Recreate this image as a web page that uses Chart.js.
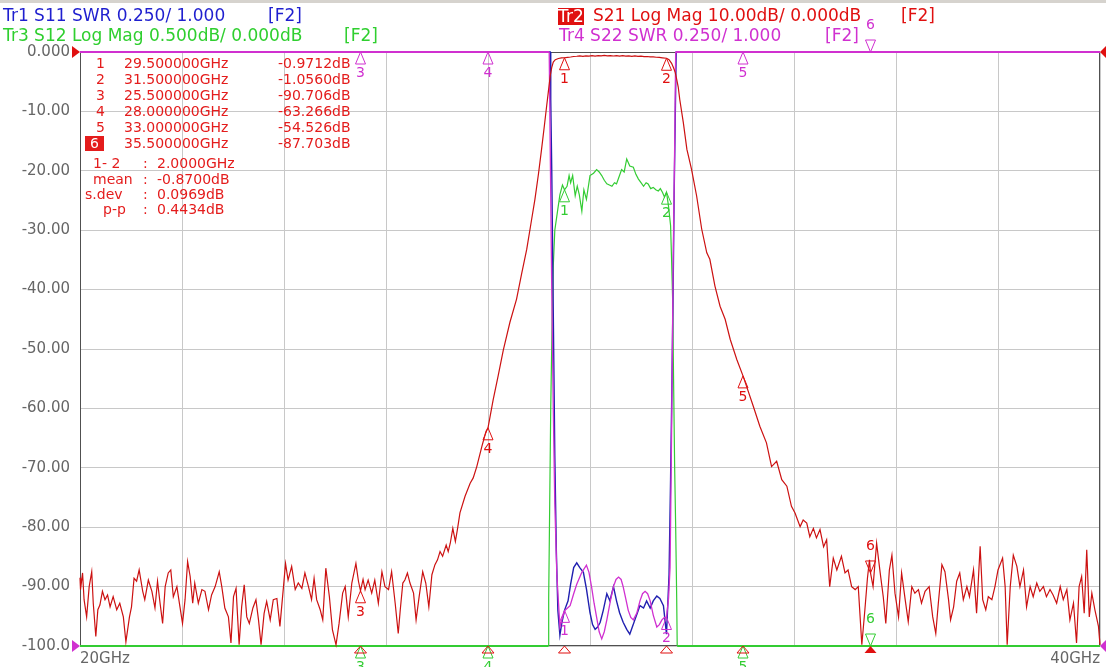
<!DOCTYPE html>
<html lang="en">
<head>
<meta charset="UTF-8">
<title>S-parameter sweep 20-40 GHz</title>
<script src="https://cdn.jsdelivr.net/npm/chart.js"></script>
<style>
    body { margin: 0; background: #fff; font-family: "DejaVu Sans", sans-serif; }
    #wrap { position: relative; width: 1106px; height: 667px; overflow: hidden; }
    #topbar { position: absolute; left: 0; top: 0; width: 1106px; height: 3px; background: #d6d3ce; }
    .t { position: absolute; white-space: pre; line-height: 20px; font-size: 17px; }
    .m { position: absolute; white-space: pre; line-height: 17px; font-size: 14px; color: #e41c1c; }
    .blue { color: #1f1fcf; }
    .green { color: #2fcf2f; }
    .red { color: #e01010; }
    .mag { color: #d030d0; }
</style>
</head>
<body>
<div id="wrap">
    <canvas id="vna" width="1106" height="667"></canvas>
    <div id="topbar"></div>

    <!-- trace header -->
    <div class="t blue" style="left:3px;top:5px">Tr1 S11 SWR 0.250/ 1.000</div>
    <div class="t blue" style="left:268px;top:5px">[F2]</div>
    <div class="t green" style="left:3px;top:25px">Tr3 S12 Log Mag 0.500dB/ 0.000dB</div>
    <div class="t green" style="left:344px;top:25px">[F2]</div>
    <div class="t" style="left:558px;top:8px;line-height:17px;height:17px;background:#e01010;color:#fff">Tr2</div>
    <div class="t red" style="left:593px;top:5px">S21 Log Mag 10.00dB/ 0.000dB</div>
    <div class="t red" style="left:901px;top:5px">[F2]</div>
    <div class="t mag" style="left:559px;top:25px">Tr4 S22 SWR 0.250/ 1.000</div>
    <div class="t mag" style="left:825px;top:25px">[F2]</div>

    <!-- marker table -->
    <div class="m" style="left:96px;top:55px">1</div>
    <div class="m" style="left:124px;top:55px">29.500000GHz</div>
    <div class="m" style="left:278px;top:55px">-0.9712dB</div>
    <div class="m" style="left:96px;top:71px">2</div>
    <div class="m" style="left:124px;top:71px">31.500000GHz</div>
    <div class="m" style="left:278px;top:71px">-1.0560dB</div>
    <div class="m" style="left:96px;top:87px">3</div>
    <div class="m" style="left:124px;top:87px">25.500000GHz</div>
    <div class="m" style="left:278px;top:87px">-90.706dB</div>
    <div class="m" style="left:96px;top:103px">4</div>
    <div class="m" style="left:124px;top:103px">28.000000GHz</div>
    <div class="m" style="left:278px;top:103px">-63.266dB</div>
    <div class="m" style="left:96px;top:119px">5</div>
    <div class="m" style="left:124px;top:119px">33.000000GHz</div>
    <div class="m" style="left:278px;top:119px">-54.526dB</div>
    <div class="m" style="left:85px;top:136px;width:19px;height:15px;line-height:15px;background:#e41c1c;color:#fff;text-align:center">6</div>
    <div class="m" style="left:124px;top:135px">35.500000GHz</div>
    <div class="m" style="left:278px;top:135px">-87.703dB</div>

    <div class="m" style="left:93px;top:155px">1- 2</div>
    <div class="m" style="left:143px;top:155px">:</div>
    <div class="m" style="left:157px;top:155px">2.0000GHz</div>
    <div class="m" style="left:93px;top:171px">mean</div>
    <div class="m" style="left:143px;top:171px">:</div>
    <div class="m" style="left:157px;top:171px">-0.8700dB</div>
    <div class="m" style="left:85px;top:186px">s.dev</div>
    <div class="m" style="left:143px;top:186px">:</div>
    <div class="m" style="left:157px;top:186px">0.0969dB</div>
    <div class="m" style="left:103px;top:201px">p-p</div>
    <div class="m" style="left:143px;top:201px">:</div>
    <div class="m" style="left:157px;top:201px">0.4434dB</div>
</div>

<script>
// Tr2 S21, log mag (dB) vs frequency (GHz)
const s21Freq = [
    20.00, 20.01, 20.05, 20.08, 20.13, 20.18, 20.23, 20.26, 20.31, 20.35,
    20.39, 20.44, 20.49, 20.54, 20.59, 20.65, 20.72, 20.78, 20.85, 20.90,
    20.97, 21.01, 21.06, 21.11, 21.16, 21.23, 21.27, 21.34, 21.41, 21.47,
    21.52, 21.57, 21.62, 21.67, 21.73, 21.78, 21.83, 21.90, 21.96, 22.01,
    22.06, 22.11, 22.16, 22.21, 22.25, 22.32, 22.39, 22.45, 22.52, 22.58,
    22.65, 22.73, 22.78, 22.84, 22.91, 22.96, 23.01, 23.06, 23.12, 23.17,
    23.22, 23.27, 23.32, 23.39, 23.45, 23.50, 23.55, 23.61, 23.66, 23.73,
    23.79, 23.86, 23.92, 23.99, 24.03, 24.08, 24.15, 24.22, 24.28, 24.35,
    24.41, 24.48, 24.54, 24.59, 24.64, 24.71, 24.76, 24.82, 24.89, 24.95,
    25.02, 25.08, 25.15, 25.20, 25.26, 25.33, 25.41, 25.46, 25.50, 25.55,
    25.59, 25.65, 25.72, 25.78, 25.85, 25.92, 25.98, 26.05, 26.11, 26.18,
    26.24, 26.28, 26.33, 26.37, 26.42, 26.47, 26.54, 26.59, 26.65, 26.72,
    26.78, 26.84, 26.90, 26.96, 27.01, 27.06, 27.11, 27.18, 27.22, 27.26,
    27.31, 27.36, 27.40, 27.45, 27.55, 27.65, 27.71, 27.78, 27.88, 27.96,
    28.00, 28.03, 28.10, 28.20, 28.30, 28.43, 28.56, 28.66, 28.76, 28.84,
    28.92, 28.99, 29.05, 29.10, 29.15, 29.19, 29.22, 29.25, 29.28, 29.32,
    29.38, 29.44, 29.50, 29.56, 29.62, 29.68, 29.74, 29.80, 29.86, 29.92,
    29.98, 30.04, 30.10, 30.16, 30.22, 30.28, 30.34, 30.40, 30.46, 30.52,
    30.58, 30.64, 30.70, 30.76, 30.82, 30.88, 30.94, 31.00, 31.06, 31.12,
    31.18, 31.24, 31.30, 31.36, 31.42, 31.50, 31.55, 31.60, 31.64, 31.67,
    31.70, 31.73, 31.76, 31.83, 31.90, 31.99, 32.09, 32.19, 32.29, 32.35,
    32.45, 32.55, 32.65, 32.75, 32.88, 33.00, 33.07, 33.20, 33.33, 33.46,
    33.56, 33.66, 33.76, 33.86, 33.95, 34.02, 34.08, 34.12, 34.18, 34.25,
    34.31, 34.38, 34.44, 34.51, 34.58, 34.64, 34.70, 34.77, 34.84, 34.93,
    35.00, 35.06, 35.13, 35.20, 35.26, 35.33, 35.39, 35.44, 35.48, 35.50,
    35.55, 35.62, 35.69, 35.75, 35.80, 35.87, 35.92, 35.98, 36.05, 36.11,
    36.18, 36.24, 36.31, 36.37, 36.44, 36.50, 36.57, 36.65, 36.72, 36.78,
    36.83, 36.90, 36.96, 37.03, 37.07, 37.13, 37.19, 37.25, 37.32, 37.39,
    37.44, 37.52, 37.58, 37.65, 37.70, 37.76, 37.81, 37.88, 37.94, 38.00,
    38.09, 38.14, 38.18, 38.24, 38.30, 38.37, 38.43, 38.50, 38.56, 38.63,
    38.69, 38.76, 38.82, 38.89, 38.95, 39.02, 39.08, 39.15, 39.22, 39.28,
    39.35, 39.41, 39.48, 39.54, 39.59, 39.64, 39.69, 39.74, 39.79, 39.84,
    39.90, 39.97, 40.00
];
const s21Db = [
    -88.5, -90.5, -87.7, -92.2, -95.1, -90.0, -87.5, -92.8, -98.4, -93.9,
    -93.1, -90.8, -92.2, -91.4, -93.4, -91.7, -93.9, -92.8, -95.1, -99.3,
    -95.1, -93.4, -88.6, -89.1, -87.2, -90.8, -92.2, -88.9, -90.8, -93.6,
    -89.1, -92.8, -96.2, -90.0, -87.7, -87.2, -91.7, -90.0, -93.4, -96.2,
    -92.2, -85.8, -88.3, -92.8, -89.4, -92.8, -90.5, -90.8, -93.9, -91.4,
    -90.0, -87.5, -90.0, -93.6, -95.1, -99.5, -91.7, -90.3, -99.8, -93.4,
    -89.7, -95.1, -96.2, -93.6, -92.2, -95.6, -99.8, -94.5, -92.5, -95.6,
    -92.2, -92.0, -96.7, -90.0, -86.1, -88.9, -86.6, -90.5, -89.4, -90.3,
    -87.7, -90.0, -92.2, -88.6, -92.2, -93.9, -95.6, -86.9, -91.7, -97.3,
    -99.8, -96.2, -91.1, -90.0, -95.1, -89.4, -86.1, -89.1, -90.7, -88.8,
    -90.5, -88.9, -91.1, -88.9, -92.8, -87.5, -90.0, -90.5, -87.5, -92.8,
    -97.9, -93.9, -89.4, -88.9, -87.7, -89.4, -91.1, -95.6, -91.7, -87.5,
    -89.4, -93.4, -88.0, -86.3, -85.5, -84.1, -84.9, -83.0, -84.1, -82.7,
    -80.2, -82.4, -80.4, -77.6, -74.8, -72.6, -71.7, -69.8, -66.4, -63.9,
    -63.27, -61.9, -58.6, -54.5, -50.2, -45.5, -41.6, -37.3, -33.2, -29.0,
    -24.8, -20.5, -16.4, -12.8, -9.1, -6.2, -4.0, -2.6, -1.7, -1.3,
    -1.1, -1.0, -0.97, -0.9, -0.84, -0.76, -0.72, -0.66, -0.72, -0.64,
    -0.7, -0.62, -0.68, -0.6, -0.66, -0.58, -0.65, -0.6, -0.67, -0.6,
    -0.68, -0.62, -0.7, -0.64, -0.72, -0.66, -0.74, -0.7, -0.78, -0.76,
    -0.83, -0.82, -0.88, -0.92, -0.98, -1.056, -1.3, -1.9, -2.7, -3.4,
    -4.6, -5.9, -8.0, -11.9, -16.4, -19.7, -24.2, -29.8, -33.8, -34.9,
    -39.4, -42.8, -45.0, -48.4, -51.8, -54.53, -56.3, -59.6, -63.0, -65.8,
    -69.8, -68.9, -72.0, -73.1, -76.5, -77.6, -79.0, -79.9, -78.8, -79.3,
    -81.6, -80.2, -81.8, -80.4, -83.3, -82.1, -90.0, -85.2, -87.2, -84.9,
    -87.7, -87.2, -90.0, -90.5, -90.0, -99.8, -93.9, -88.6, -85.5, -87.7,
    -90.0, -82.7, -87.7, -91.7, -96.2, -87.2, -84.7, -91.1, -95.1, -87.7,
    -92.2, -95.9, -90.0, -91.1, -90.5, -92.8, -90.8, -90.0, -95.1, -97.9,
    -92.8, -86.3, -87.5, -92.2, -95.6, -93.4, -89.1, -87.7, -92.2, -90.0,
    -91.7, -87.2, -94.5, -83.2, -92.2, -93.9, -91.7, -92.2, -90.0, -87.2,
    -85.2, -90.0, -99.8, -90.0, -84.7, -86.6, -90.0, -87.2, -93.4, -90.0,
    -91.7, -89.4, -90.8, -90.0, -91.7, -90.5, -91.4, -92.8, -90.0, -92.2,
    -90.5, -95.6, -92.8, -99.5, -90.0, -88.3, -94.5, -83.8, -95.1, -91.1,
    -93.9, -96.7, -99.8
];

// Tr3 S12, log mag 0.5 dB/div (clamped at -5 dB on screen)
const s12Freq = [
    20.00, 29.18, 29.19, 29.21, 29.23, 29.26, 29.28, 29.31, 29.36, 29.41,
    29.46, 29.50, 29.55, 29.59, 29.62, 29.66, 29.71, 29.75, 29.79, 29.84,
    29.88, 29.93, 30.00, 30.07, 30.13, 30.18, 30.23, 30.28, 30.33, 30.38,
    30.43, 30.48, 30.52, 30.57, 30.62, 30.67, 30.72, 30.78, 30.85, 30.90,
    30.95, 31.00, 31.05, 31.10, 31.14, 31.19, 31.24, 31.29, 31.34, 31.38,
    31.42, 31.46, 31.50, 31.54, 31.58, 31.60, 31.62, 31.64, 31.66, 31.68,
    31.70, 31.71, 40.00
];
const s12Db = [
    -5.0, -5.0, -4.6, -3.8, -3.0, -2.2, -1.8, -1.5, -1.35, -1.2,
    -1.12, -1.16, -1.13, -1.04, -1.1, -1.04, -1.21, -1.13, -1.2, -1.34,
    -1.16, -1.24, -1.04, -1.02, -0.99, -1.01, -1.04, -1.08, -1.11, -1.12,
    -1.13, -1.1, -1.11, -1.05, -0.99, -1.01, -0.9, -0.96, -0.97, -1.03,
    -1.07, -1.1, -1.13, -1.1, -1.11, -1.15, -1.14, -1.16, -1.17, -1.15,
    -1.18, -1.22, -1.18, -1.3, -1.46, -1.75, -2.08, -2.8, -3.5, -4.0,
    -4.6, -5.0, -5.0
];

// Tr1 S11, SWR 0.25/div from 1.000 (clamped at 3.5 on screen)
const s11Freq = [
    20.00, 29.22, 29.23, 29.25, 29.27, 29.29, 29.31, 29.34, 29.37, 29.41,
    29.45, 29.50, 29.57, 29.62, 29.68, 29.74, 29.80, 29.87, 29.93, 30.00,
    30.05, 30.10, 30.15, 30.20, 30.26, 30.33, 30.39, 30.46, 30.52, 30.58,
    30.65, 30.72, 30.78, 30.83, 30.88, 30.93, 30.98, 31.05, 31.11, 31.18,
    31.24, 31.31, 31.37, 31.44, 31.50, 31.55, 31.58, 31.60, 31.63, 31.65,
    31.67, 31.69, 40.00
];
const s11Swr = [
    3.5, 3.5, 3.3, 3.0, 2.6, 2.2, 1.8, 1.4, 1.15, 1.046,
    1.1, 1.15, 1.19, 1.26, 1.33, 1.35, 1.33, 1.31, 1.24, 1.14,
    1.09, 1.07, 1.08, 1.1, 1.15, 1.22, 1.19, 1.25, 1.19, 1.14,
    1.1, 1.07, 1.05, 1.08, 1.11, 1.14, 1.17, 1.16, 1.19, 1.16,
    1.19, 1.21, 1.2, 1.17, 1.05, 1.3, 1.7, 2.0, 2.5, 2.9,
    3.2, 3.5, 3.5
];

// Tr4 S22, SWR 0.25/div from 1.000
const s22Freq = [
    20.00, 29.20, 29.22, 29.25, 29.28, 29.31, 29.35, 29.41, 29.46, 29.51,
    29.56, 29.61, 29.68, 29.74, 29.84, 29.93, 29.98, 30.03, 30.08, 30.13,
    30.18, 30.23, 30.28, 30.33, 30.40, 30.46, 30.51, 30.56, 30.61, 30.65,
    30.70, 30.75, 30.80, 30.85, 30.92, 30.98, 31.03, 31.08, 31.13, 31.18,
    31.24, 31.31, 31.36, 31.41, 31.46, 31.50, 31.54, 31.57, 31.60, 31.63,
    31.66, 31.68, 40.00
];
const s22Swr = [
    3.5, 3.5, 3.1, 2.5, 2.0, 1.6, 1.3, 1.08, 1.12, 1.15,
    1.16, 1.17, 1.22, 1.26, 1.31, 1.34, 1.31, 1.25, 1.18, 1.12,
    1.06, 1.03, 1.06, 1.11, 1.19, 1.25, 1.28, 1.29, 1.28, 1.25,
    1.2, 1.15, 1.12, 1.11, 1.14, 1.19, 1.22, 1.23, 1.22, 1.19,
    1.13, 1.08, 1.09, 1.11, 1.12, 1.12, 1.2, 1.33, 1.9, 2.6,
    3.1, 3.5, 3.5
];

// markers 1..6 (6 is the active one)
const markerNames = ['1', '2', '3', '4', '5', '6'];
const markerFreq = [29.5, 31.5, 25.5, 28.0, 33.0, 35.5];
const markerS21 = [-0.9712, -1.0560, -90.706, -63.266, -54.526, -87.703];
const markerS12 = [-1.16, -1.18, -5.0, -5.0, -5.0, -5.0];
const markerS22 = [1.15, 1.12, 3.5, 3.5, 3.5, 3.5];
const activeMarker = 5;

const xTickLabels = { 20: '20GHz', 40: '40GHz' };

const RED = '#cc1111', GREEN = '#33cc33', BLUE = '#2020b0', MAG = '#d030d0';

function pts(fs, vs) {
    return fs.map((f, i) => ({ x: f, y: vs[i] }));
}

// clamped (off-screen) stretches sit on the frame, draw them a bit wider
function edgeWidth(edge, thin) {
    return (c) => (c.p0.parsed.y === edge && c.p1.parsed.y === edge) ? 2 : thin;
}

function tri(ctx, px, py, up, color, filled, hw, h) {
    const d = up ? 1 : -1;
    ctx.beginPath();
    ctx.moveTo(px, py);
    ctx.lineTo(px - hw, py + d * h);
    ctx.lineTo(px + hw, py + d * h);
    ctx.closePath();
    if (filled) {
        ctx.fillStyle = color;
        ctx.fill();
    } else {
        ctx.strokeStyle = color;
        ctx.lineWidth = 1;
        ctx.stroke();
    }
}

function drawMarker(ctx, px, py, active, color, name) {
    ctx.font = '14px "DejaVu Sans"';
    ctx.textAlign = 'center';
    ctx.textBaseline = 'alphabetic';
    tri(ctx, px, py, !active, color, false, 5, 12);
    ctx.fillStyle = color;
    ctx.fillText(name, px, active ? py - 23 : py + 25);
}

const vnaOverlay = {
    id: 'vnaOverlay',
    beforeDatasetsDraw(chart) {
        const { ctx, chartArea: a } = chart;
        ctx.save();
        ctx.strokeStyle = '#505050';
        ctx.lineWidth = 1;
        ctx.strokeRect(a.left + 0.5, a.top + 0.5, a.right - a.left - 1, a.bottom - a.top - 1);
        ctx.restore();
    },
    afterDatasetsDraw(chart) {
        const { ctx, chartArea: a, scales } = chart;
        ctx.save();

        // reference position arrows
        ctx.fillStyle = '#e01010';
        ctx.beginPath();
        ctx.moveTo(a.left, a.top); ctx.lineTo(a.left - 8, a.top - 6); ctx.lineTo(a.left - 8, a.top + 6);
        ctx.fill();
        ctx.beginPath();
        ctx.moveTo(a.right, a.top); ctx.lineTo(a.right + 6, a.top - 6); ctx.lineTo(a.right + 6, a.top + 6);
        ctx.fill();
        ctx.fillStyle = MAG;
        ctx.beginPath();
        ctx.moveTo(a.left, a.bottom); ctx.lineTo(a.left - 8, a.bottom - 6); ctx.lineTo(a.left - 8, a.bottom + 6);
        ctx.fill();
        ctx.beginPath();
        ctx.moveTo(a.right, a.bottom); ctx.lineTo(a.right + 6, a.bottom - 6); ctx.lineTo(a.right + 6, a.bottom + 6);
        ctx.fill();

        markerFreq.forEach((f, i) => {
            const px = scales.x.getPixelForValue(f);
            const act = i === activeMarker;
            drawMarker(ctx, px, scales.yLm.getPixelForValue(markerS12[i]), act, GREEN, markerNames[i]);
            drawMarker(ctx, px, scales.ySwr.getPixelForValue(markerS22[i]), act, MAG, markerNames[i]);
            drawMarker(ctx, px, scales.yDb.getPixelForValue(markerS21[i]), act, '#e01010', markerNames[i]);
            // marker position on the frequency axis
            tri(ctx, px, a.bottom, true, '#e01010', act, 6, 7);
        });
        ctx.restore();
    }
};

new Chart(document.getElementById('vna'), {
    type: 'line',
    data: {
        datasets: [
            { label: 'S21', data: pts(s21Freq, s21Db), yAxisID: 'yDb', borderColor: RED, borderWidth: 1.2 },
            { label: 'S22', data: pts(s22Freq, s22Swr), yAxisID: 'ySwr', borderColor: MAG, borderWidth: 1.3,
              segment: { borderWidth: edgeWidth(3.5, 1.3) } },
            { label: 'S11', data: pts(s11Freq, s11Swr), yAxisID: 'ySwr', borderColor: BLUE, borderWidth: 1.4 },
            { label: 'S12', data: pts(s12Freq, s12Db), yAxisID: 'yLm', borderColor: GREEN, borderWidth: 1.2,
              segment: { borderWidth: edgeWidth(-5.0, 1.2) } }
        ]
    },
    options: {
        responsive: false,
        animation: false,
        devicePixelRatio: 1,
        layout: { padding: { top: 52, right: 6, left: 0, bottom: 0 } },
        elements: { point: { radius: 0 }, line: { tension: 0 } },
        datasets: { line: { clip: 4 } },
        plugins: { legend: { display: false }, tooltip: { enabled: false } },
        scales: {
            x: {
                type: 'linear', min: 20, max: 40,
                afterFit(s) { s.height = 21; },
                border: { display: false },
                grid: { color: '#c8c8c8', lineWidth: 1, drawTicks: false },
                ticks: {
                    stepSize: 2, autoSkip: false, maxRotation: 0, align: 'inner', padding: 4,
                    color: '#666', font: { family: 'DejaVu Sans', size: 15 },
                    callback: (v) => xTickLabels[v] || ''
                }
            },
            yDb: {
                position: 'left', min: -100, max: 0,
                afterFit(s) { s.width = 80; },
                border: { display: false },
                grid: { color: '#c8c8c8', lineWidth: 1, drawTicks: false },
                ticks: {
                    stepSize: 10, padding: 10, color: '#666',
                    font: { family: 'DejaVu Sans', size: 15 },
                    callback: (v) => v === 0 ? '0.000' : (v === -100 ? '-100.0' : v.toFixed(2))
                }
            },
            yLm: { display: false, min: -5, max: 0 },
            ySwr: { display: false, min: 1, max: 3.5 }
        }
    },
    plugins: [vnaOverlay]
});
</script>
</body>
</html>
